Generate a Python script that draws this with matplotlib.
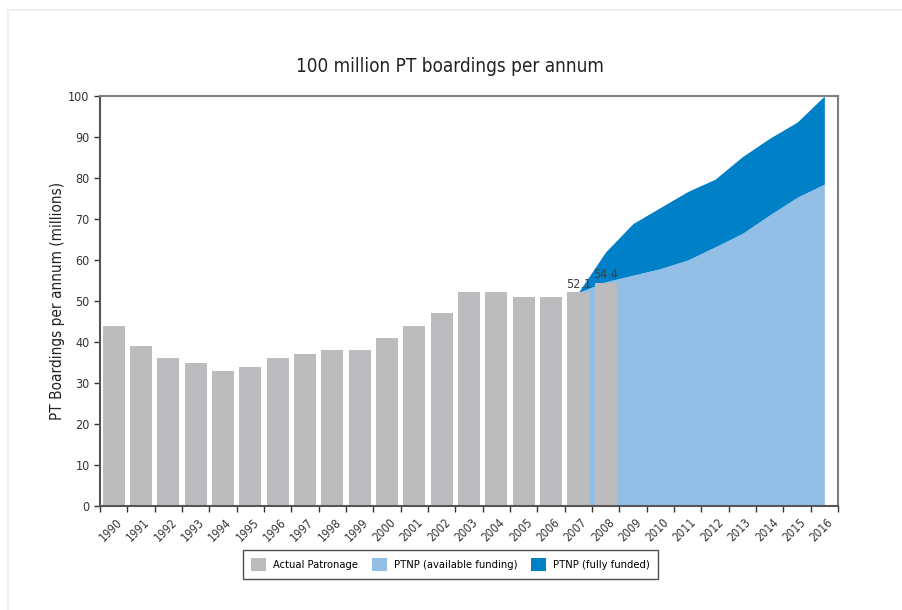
import matplotlib

matplotlib.use("Agg")
import matplotlib.pyplot as plt
from matplotlib.patches import Patch, Rectangle
from matplotlib.ticker import FixedLocator, NullFormatter

plt.rcParams["font.family"] = ["DejaVu Sans"]
plt.rcParams["font.stretch"] = "condensed"

years = [str(y) for y in range(1990, 2017)]
actual_years = years[:19]
actual_values = [44, 39, 36, 35, 33, 34, 36, 37, 38, 38, 41, 44, 47, 52.2, 52.2, 51, 51, 52.1, 54.4]
plan_years = years[17:]
ptnp_available = [52.1, 54.7, 56.3, 57.9, 60.0, 63.2, 66.5, 71.0, 75.3, 78.5]
ptnp_full = [52.1, 62.0, 68.9, 72.8, 76.7, 79.7, 85.2, 89.7, 93.6, 100.0]
labelled = {"2007": 52.1, "2008": 54.4}

grey = "#bcbcbe"
light_blue = "#93bfe6"
dark_blue = "#0080c6"
spine_grey = "#7f7f7f"

fig = plt.figure(figsize=(9.03, 6.10), dpi=100)
fig.patches.append(Rectangle((8 / 903, -0.1), 1.2, (600 / 610) + 0.1, transform=fig.transFigure,
                             fill=False, edgecolor="#ececec", linewidth=1.2))
ax = fig.add_axes([100 / 903, 104 / 610, 738 / 903, 410 / 610])

pos = {y: i for i, y in enumerate(years)}
plan_x = [pos[y] for y in plan_years]
ax.fill_between(plan_x, 0, ptnp_available, color=light_blue, linewidth=0, zorder=1)
ax.fill_between(plan_x, ptnp_available, ptnp_full, color=dark_blue, linewidth=0, zorder=1)
ax.bar([pos[y] for y in actual_years], actual_values, width=0.8, color=grey, zorder=2)

for year, value in labelled.items():
    ax.text(pos[year], value + 0.4, f"{value}", ha="center", va="bottom", fontsize=9,
            color="#404040", zorder=3)

ax.set_xlim(-0.5, len(years) - 0.5)
ax.set_ylim(0, 100)
ax.set_yticks(range(0, 101, 10))
ax.xaxis.set_major_locator(FixedLocator([i - 0.5 for i in range(len(years) + 1)]))
ax.xaxis.set_major_formatter(NullFormatter())
ax.set_xticks([i + 0.08 for i in range(len(years))], minor=True)
ax.set_xticklabels(years, minor=True, rotation=45, ha="right", rotation_mode="anchor",
                   fontsize=8.5, color="#333333")
ax.tick_params(axis="x", which="minor", length=0, pad=7)
ax.tick_params(axis="x", which="major", length=4, width=1, color="#333333")
ax.tick_params(axis="y", length=4, width=1, color="#333333", labelsize=9, labelcolor="#333333")

for side in ["left", "bottom", "top", "right"]:
    ax.spines[side].set_color(spine_grey)
    ax.spines[side].set_linewidth(1.5)
ax.spines["left"].set_color("#555555")
ax.spines["bottom"].set_color("#555555")

ax.set_ylabel("PT Boardings per annum (millions)", fontsize=11, color="#222222", labelpad=2)
fig.text(450 / 903, 1 - 67 / 610, "100 million PT boardings per annum", ha="center", va="center",
         fontsize=13.6, color="#222222")

handles = [
    Patch(facecolor=grey, label="Actual Patronage"),
    Patch(facecolor=light_blue, label="PTNP (available funding)"),
    Patch(facecolor=dark_blue, label="PTNP (fully funded)"),
]
legend = fig.legend(handles=handles, loc="center", bbox_to_anchor=(450.5 / 903, 45.5 / 610), ncol=3,
                    fontsize=8, fancybox=False, frameon=True, edgecolor="#222222",
                    handlelength=1.35, handleheight=1.35, handletextpad=0.6, columnspacing=1.25,
                    borderpad=0.75, borderaxespad=0)
legend.get_frame().set_linewidth(1)

fig.savefig("out.png", dpi=100)
